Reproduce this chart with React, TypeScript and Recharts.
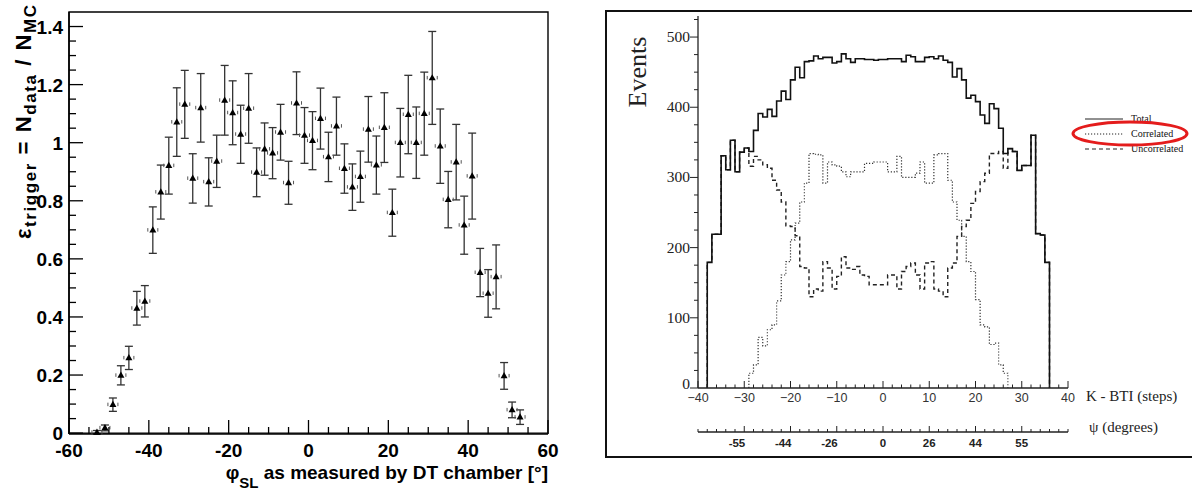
import React from 'react';
import {
  ScatterChart,
  Scatter,
  XAxis,
  YAxis,
  ErrorBar,
  ReferenceArea,
  LineChart,
  Line,
  Legend,
} from 'recharts';

// ---------------- Left panel data ----------------
const phiSL = [
  -53, -51, -49, -47, -45, -43, -41, -39, -37, -35, -33, -31, -29, -27, -25, -23, -21, -19,
  -17, -15, -13, -11, -9, -7, -5, -3, -1, 1, 3, 5, 7, 9, 11, 13, 15, 17, 19, 21, 23, 25, 27,
  29, 31, 33, 35, 37, 39, 41, 43, 45, 47, 49, 51, 53,
];
const efficiency = [
  0.003, 0.018, 0.098, 0.199, 0.259, 0.43, 0.454, 0.699, 0.83, 0.921, 1.071, 1.132, 0.877,
  1.12, 0.865, 0.936, 1.146, 1.103, 1.029, 1.118, 0.898, 0.978, 0.964, 1.036, 0.862, 1.136,
  1.025, 1.007, 1.083, 0.951, 1.057, 0.911, 0.847, 0.883, 1.046, 0.923, 1.052, 0.759, 1.0,
  1.097, 1.0, 1.1, 1.223, 0.988, 0.804, 0.933, 0.716, 0.885, 0.553, 0.481, 0.538, 0.197,
  0.08, 0.055,
];
const efficiencyErr = [
  0.006, 0.01, 0.023, 0.033, 0.04, 0.058, 0.054, 0.08, 0.093, 0.098, 0.118, 0.117, 0.085,
  0.118, 0.083, 0.09, 0.12, 0.11, 0.1, 0.12, 0.084, 0.09, 0.088, 0.096, 0.074, 0.108, 0.096,
  0.1, 0.105, 0.085, 0.1, 0.085, 0.08, 0.088, 0.113, 0.1, 0.12, 0.081, 0.118, 0.135, 0.123,
  0.143, 0.16, 0.128, 0.097, 0.13, 0.1, 0.148, 0.083, 0.082, 0.11, 0.046, 0.027, 0.025,
];
const phiTicks = [-60, -55, -50, -45, -40, -35, -30, -25, -20, -15, -10, -5, 0, 5, 10, 15, 20, 25, 30, 35, 40, 45, 50, 55, 60];
const phiMajorTicks = [-60, -40, -20, 0, 20, 40, 60];
const effTicks = [
  0, 0.05, 0.1, 0.15, 0.2, 0.25, 0.3, 0.35, 0.4, 0.45, 0.5, 0.55, 0.6, 0.65, 0.7, 0.75, 0.8,
  0.85, 0.9, 0.95, 1, 1.05, 1.1, 1.15, 1.2, 1.25, 1.3, 1.35, 1.4,
];
const effMajorTicks = [0, 0.2, 0.4, 0.6, 0.8, 1, 1.2, 1.4];

// ---------------- Right panel data ----------------
const kBins = [
  -38, -37, -36, -35, -34, -33, -32, -31, -30, -29, -28, -27, -26, -25, -24, -23, -22, -21,
  -20, -19, -18, -17, -16, -15, -14, -13, -12, -11, -10, -9, -8, -7, -6, -5, -4, -3, -2, -1,
  0, 1, 2, 3, 4, 5, 6, 7, 8, 9, 10, 11, 12, 13, 14, 15, 16, 17, 18, 19, 20, 21, 22, 23, 24,
  25, 26, 27, 28, 29, 30, 31, 32, 33, 34, 35,
];
const totalEvents = [
  179, 219, 219, 331, 311, 353, 308, 336, 342, 337,
  367, 391, 386, 397, 387, 409, 423, 411, 439, 457,
  442, 465, 466, 473, 469, 471, 471, 463, 465, 476,
  469, 464, 469, 469, 468, 468, 467, 468, 468, 469,
  469, 469, 465, 474, 472, 465, 465, 471, 472, 469,
  473, 467, 464, 443, 455, 439, 413, 417, 408, 389,
  377, 405, 398, 370, 334, 341, 337, 310, 317, 317,
  360, 220, 218, 179,
];
const uncorrelatedEvents = [
  179, 219, 219, 331, 311, 353, 308, 336, 342, 316,
  330, 325, 318, 313, 296, 282, 265, 231, 230, 217,
  173, 171, 130, 141, 138, 180, 171, 141, 159, 187,
  171, 169, 173, 161, 159, 147, 147, 147, 147, 161,
  161, 141, 166, 173, 178, 161, 141, 178, 180, 141,
  138, 130, 171, 178, 216, 230, 239, 263, 280, 294,
  306, 334, 334, 337, 313, 341, 337, 310, 317, 317,
  360, 220, 218, 179,
];
const correlatedBins = kBins.slice(9, 65); // K = -29 ... 26
const correlatedEvents = [
  21, 33, 72, 60, 83, 90, 124, 161, 180, 211,
  235, 265, 292, 334, 333, 332, 292, 322, 318, 316,
  308, 301, 308, 308, 308, 320, 320, 322, 322, 322,
  308, 308, 330, 300, 300, 300, 306, 322, 292, 292,
  332, 334, 334, 296, 265, 239, 216, 180, 166, 126,
  90, 87, 62, 64, 33, 21,
];
const kTicks = [
  -40, -38, -36, -34, -32, -30, -28, -26, -24, -22, -20, -18, -16, -14, -12, -10, -8, -6, -4,
  -2, 0, 2, 4, 6, 8, 10, 12, 14, 16, 18, 20, 22, 24, 26, 28, 30, 32, 34, 36, 38, 40,
];
const kMajorTicks = [-40, -30, -20, -10, 0, 10, 20, 30, 40];
const eventsTicks = [
  0, 25, 50, 75, 100, 125, 150, 175, 200, 225, 250, 275, 300, 325, 350, 375, 400, 425, 450,
  475, 500, 525,
];
const eventsMajorTicks = [0, 100, 200, 300, 400, 500];
const psiTickK = [-30, -20, -10, 0, 10, 20, 30];
const psiTickLabels = ['-55', '-44', '-26', '0', '26', '44', '55'];
const seriesNames = ['Total', 'Correlated', 'Uncorrelated'];

// step-histogram outline: rises from 0 at the first edge, drops to 0 after the last bin
function histOutline(starts: number[], values: number[]) {
  const pts = [{ k: starts[0], v: 0 }];
  starts.forEach((s, i) => pts.push({ k: s, v: values[i] }));
  const end = starts[starts.length - 1] + 1;
  pts.push({ k: end, v: values[values.length - 1] });
  pts.push({ k: end, v: 0 });
  return pts;
}

const scatterData = phiSL.map((x, i) => ({ x, y: efficiency[i], err: efficiencyErr[i] }));
const totalData = histOutline(kBins, totalEvents);
const uncorrData = histOutline(kBins, uncorrelatedEvents);
const corrData = histOutline(correlatedBins, correlatedEvents);

const SANS = '"Liberation Sans", Arial, Helvetica, sans-serif';
const SERIF = '"Liberation Serif", "Times New Roman", serif';

// ---------------- Left panel components ----------------
const LeftXTick = (props: any) => {
  const { x, y, payload } = props;
  const v = payload.value;
  const major = phiMajorTicks.includes(v);
  return (
    <g>
      <line x1={x} x2={x} y1={y} y2={y - (major ? 14 : 7)} stroke="#000" strokeWidth={1.3} />
      {major && (
        <text x={x} y={y + 23} textAnchor="middle" fontFamily={SANS} fontWeight="bold" fontSize={19} fill="#000">
          {v}
        </text>
      )}
    </g>
  );
};

const LeftYTick = (props: any) => {
  const { x, y, payload } = props;
  const v = payload.value;
  const major = effMajorTicks.some((m) => Math.abs(m - v) < 1e-9);
  return (
    <g>
      <line x1={x} x2={x + (major ? 14 : 7)} y1={y} y2={y} stroke="#000" strokeWidth={1.3} />
      {major && (
        <text x={x - 6} y={y + 7} textAnchor="end" fontFamily={SANS} fontWeight="bold" fontSize={19} fill="#000">
          {v}
        </text>
      )}
    </g>
  );
};

const LeftYTitle = () => (
  <text
    transform="translate(31,5) rotate(-90)"
    textAnchor="end"
    fontFamily={SANS}
    fontWeight="bold"
    fontSize={22}
    fill="#000"
    textLength={234}
    lengthAdjust="spacing"
  >
    <tspan>ε</tspan>
    <tspan dy={5} fontSize={17}>trigger</tspan>
    <tspan dy={-5}>{' = N'}</tspan>
    <tspan dy={5} fontSize={17}>data</tspan>
    <tspan dy={-5}>{' / N'}</tspan>
    <tspan dy={5} fontSize={17}>MC</tspan>
  </text>
);

const LeftXTitle = () => (
  <text x={548} y={479} textAnchor="end" fontFamily={SANS} fontWeight="bold" fontSize={19} fill="#000">
    <tspan>φ</tspan>
    <tspan dy={9} fontSize={15}>SL</tspan>
    <tspan dy={-9}>{'  as measured by DT chamber [°]'}</tspan>
  </text>
);

const TriangleMarker = (props: any) => {
  const { cx, cy } = props;
  if (cx == null || cy == null) return null;
  return (
    <g>
      <line x1={cx - 5} x2={cx - 5} y1={cy - 2} y2={cy + 1.5} stroke="#555" strokeWidth={1} />
      <line x1={cx + 5} x2={cx + 5} y1={cy - 2} y2={cy + 1.5} stroke="#555" strokeWidth={1} />
      <path d={`M${cx},${cy - 3.8} L${cx + 3.5},${cy + 2.4} L${cx - 3.5},${cy + 2.4} Z`} fill="#000" />
    </g>
  );
};

// ---------------- Right panel components ----------------
const KTick = (props: any) => {
  const { x, y, payload } = props;
  const v = payload.value;
  const major = kMajorTicks.includes(v);
  return (
    <g>
      <line x1={x} x2={x} y1={y} y2={y - (major ? 7 : 3.5)} stroke="#222" strokeWidth={1} />
      {major && (
        <text x={x} y={y + 14} textAnchor="middle" fontFamily={SANS} fontSize={12.5} fill="#333">
          {v < 0 ? `\u2212${Math.abs(v)}` : v}
        </text>
      )}
    </g>
  );
};

const PsiTick = (props: any) => {
  const { x, y, payload } = props;
  const v = payload.value;
  const idx = psiTickK.indexOf(v);
  const major = idx >= 0;
  const label = major ? psiTickLabels[idx] : null;
  return (
    <g>
      <line x1={x} x2={x} y1={y} y2={y - (major ? 6 : 3)} stroke="#222" strokeWidth={1} />
      {label && (
        <text
          x={label.startsWith('-') ? x + 1 : x}
          y={y + 15}
          textAnchor={label.startsWith('-') ? 'end' : 'middle'}
          fontFamily={SANS}
          fontWeight="bold"
          fontSize={11.5}
          fill="#222"
        >
          {label}
        </text>
      )}
    </g>
  );
};

const EventsTick = (props: any) => {
  const { x, y, payload } = props;
  const v = payload.value;
  const major = eventsMajorTicks.includes(v);
  return (
    <g>
      <line x1={x} x2={x - (major ? 8 : 4)} y1={y} y2={y} stroke="#222" strokeWidth={1} />
      {major && (
        <text x={x - 8} y={v === 0 ? y + 1 : y + 5} textAnchor="end" fontFamily={SERIF} fontSize={15.5} fill="#222">
          {v}
        </text>
      )}
    </g>
  );
};

const EventsTitle = () => (
  <text transform="translate(46,72) rotate(-90)" textAnchor="middle" fontFamily={SERIF} fontSize={26} fill="#222">
    Events
  </text>
);

const KTitle = () => (
  <text x={486} y={401} fontFamily={SERIF} fontSize={15} fill="#222">
    K - BTI (steps)
  </text>
);

const PsiTitle = () => (
  <text x={489} y={432} fontFamily={SERIF} fontSize={15} fill="#222">
    ψ (degrees)
  </text>
);

const legendDash: Record<string, string | undefined> = {
  Total: undefined,
  Correlated: '1.2 1.8',
  Uncorrelated: '4 3',
};

const HistLegend = () => (
  <svg width={124} height={50} style={{ overflow: 'visible', display: 'block' }}>
    {seriesNames.map((name, i) => (
      <g key={name}>
        <line x1={17} x2={55} y1={9 + i * 15} y2={9 + i * 15} stroke="#222" strokeWidth={1} strokeDasharray={legendDash[name]} />
        <text x={63} y={12 + i * 15} fontFamily={SERIF} fontSize={10} fill="#111">
          {name}
        </text>
      </g>
    ))}
    <ellipse cx={62} cy={23.5} rx={57} ry={11.5} fill="none" stroke="#e41c1c" strokeWidth={3} />
  </svg>
);

export default function App() {
  return (
    <div style={{ position: 'absolute', left: 0, top: 0, width: 1192, height: 488, background: '#fff', overflow: 'hidden' }}>
      <div style={{ position: 'absolute', left: 0, top: 0 }}>
        <ScatterChart width={600} height={488} margin={{ top: 12, right: 52, bottom: 0, left: 0 }}>
          <XAxis
            type="number"
            dataKey="x"
            domain={[-60, 60]}
            ticks={phiTicks}
            interval={0}
            tickSize={0}
            tickMargin={0}
            tickLine={false}
            tick={<LeftXTick />}
            axisLine={{ stroke: '#000', strokeWidth: 1.5 }}
            height={54}
            label={<LeftXTitle />}
          />
          <YAxis
            type="number"
            dataKey="y"
            domain={[0, 1.45]}
            ticks={effTicks}
            interval={0}
            tickSize={0}
            tickMargin={0}
            tickLine={false}
            tick={<LeftYTick />}
            axisLine={{ stroke: '#000', strokeWidth: 1.5 }}
            width={69}
            label={<LeftYTitle />}
          />
          <ReferenceArea x1={-60} x2={60} y1={0} y2={1.45} fill="none" stroke="#000" strokeWidth={1.4} ifOverflow="visible" />
          <Scatter data={scatterData} dataKey="y" shape={<TriangleMarker />} isAnimationActive={false}>
            <ErrorBar dataKey="err" direction="y" width={4} stroke="#333" strokeWidth={1.3} />
          </Scatter>
        </ScatterChart>
      </div>

      <div
        style={{
          position: 'absolute',
          left: 605,
          top: 10,
          width: 620,
          height: 448,
          border: '2px solid #111',
          boxSizing: 'border-box',
        }}
      />

      <div style={{ position: 'absolute', left: 600, top: 0 }}>
        <LineChart width={592} height={488} margin={{ top: 16, right: 124, bottom: 0, left: 0 }}>
          <XAxis
            xAxisId="k"
            type="number"
            dataKey="k"
            domain={[-40, 40]}
            ticks={kTicks}
            interval={0}
            tickSize={0}
            tickMargin={0}
            tickLine={false}
            tick={<KTick />}
            axisLine={{ stroke: '#222', strokeWidth: 1.3 }}
            height={44}
            allowDataOverflow
            label={<KTitle />}
          />
          <XAxis
            xAxisId="psi"
            type="number"
            dataKey="k"
            domain={[-40, 40]}
            ticks={kTicks}
            interval={0}
            tickSize={0}
            tickMargin={0}
            tickLine={false}
            tick={<PsiTick />}
            axisLine={{ stroke: '#222', strokeWidth: 1.3 }}
            height={56}
            allowDataOverflow
            label={<PsiTitle />}
          />
          <YAxis
            type="number"
            domain={[0, 530]}
            ticks={eventsTicks}
            interval={0}
            tickSize={0}
            tickMargin={0}
            tickLine={false}
            tick={<EventsTick />}
            axisLine={{ stroke: '#222', strokeWidth: 1.3 }}
            width={98}
            allowDataOverflow
            label={<EventsTitle />}
          />
          <Legend
            layout="horizontal"
            verticalAlign="middle"
            align="center"
            content={<HistLegend />}
            wrapperStyle={{ position: 'absolute', left: 468, top: 110, width: 124, height: 50 }}
          />
          <Line
            xAxisId="k"
            name="Uncorrelated"
            data={uncorrData}
            dataKey="v"
            type="stepAfter"
            stroke="#222"
            strokeWidth={1.4}
            strokeDasharray="4 3"
            dot={false}
            activeDot={false}
            isAnimationActive={false}
          />
          <Line
            xAxisId="k"
            name="Correlated"
            data={corrData}
            dataKey="v"
            type="stepAfter"
            stroke="#333"
            strokeWidth={1.2}
            strokeDasharray="1.2 1.8"
            dot={false}
            activeDot={false}
            isAnimationActive={false}
          />
          <Line
            xAxisId="k"
            name="Total"
            data={totalData}
            dataKey="v"
            type="stepAfter"
            stroke="#111"
            strokeWidth={1.6}
            dot={false}
            activeDot={false}
            isAnimationActive={false}
          />
        </LineChart>
      </div>
    </div>
  );
}
